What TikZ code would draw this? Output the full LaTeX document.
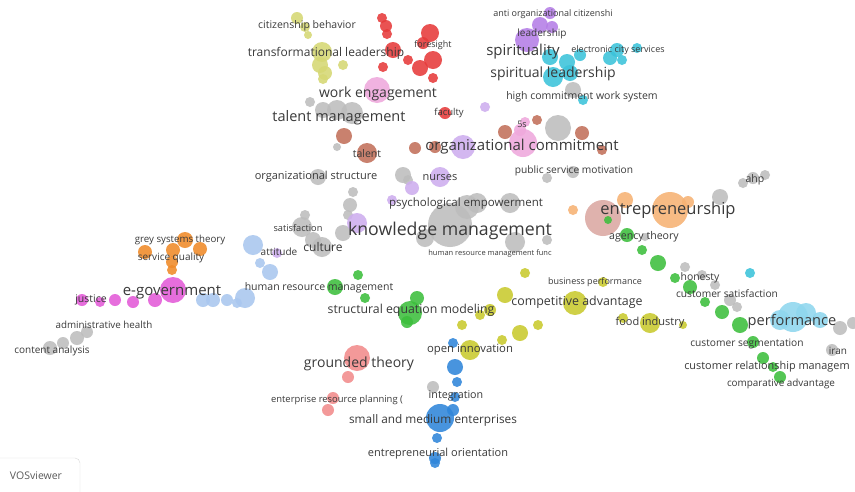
\documentclass[tikz,border=0pt]{standalone}
\usepackage{xcolor}
\usepackage{tikz}
\usetikzlibrary{backgrounds}
\usepackage{fontspec}
\setmainfont{Open Sans}
\definecolor{rosso}{HTML}{E63B3B}
\definecolor{giallo}{HTML}{D6D874}
\definecolor{oliva}{HTML}{C9CA2E}
\definecolor{rosa}{HTML}{EFA8DC}
\definecolor{grigio}{HTML}{BDBDBD}
\definecolor{marrone}{HTML}{C2705A}
\definecolor{rosantico}{HTML}{DBA8A2}
\definecolor{viola}{HTML}{B57EE6}
\definecolor{lilla}{HTML}{CDAEEE}
\definecolor{ciano}{HTML}{3CC3DA}
\definecolor{arancio}{HTML}{F08A28}
\definecolor{arancino}{HTML}{F6B274}
\definecolor{azzurro}{HTML}{A9C7EF}
\definecolor{magenta}{HTML}{E35AD8}
\definecolor{verde}{HTML}{3DBF3D}
\definecolor{blu}{HTML}{2F86DA}
\definecolor{salmone}{HTML}{F28C8C}
\definecolor{celeste}{HTML}{8FD7EE}
\definecolor{testo}{HTML}{3A3A3A}

\tikzset{
  bolla/.style={circle, inner sep=0pt, minimum size=#1pt, fill opacity=.88},
  ros/.style={bolla=#1, fill=rosso}, gia/.style={bolla=#1, fill=giallo},
  oli/.style={bolla=#1, fill=oliva}, rsa/.style={bolla=#1, fill=rosa},
  gri/.style={bolla=#1, fill=grigio}, mar/.style={bolla=#1, fill=marrone},
  vio/.style={bolla=#1, fill=viola}, lil/.style={bolla=#1, fill=lilla},
  cia/.style={bolla=#1, fill=ciano}, ara/.style={bolla=#1, fill=arancio},
  arc/.style={bolla=#1, fill=arancino}, azz/.style={bolla=#1, fill=azzurro},
  mag/.style={bolla=#1, fill=magenta}, ver/.style={bolla=#1, fill=verde},
  blu/.style={bolla=#1, fill=blu}, sal/.style={bolla=#1, fill=salmone},
  cel/.style={bolla=#1, fill=celeste},
  lbl/.style={inner sep=0pt, text=testo, font=\fontsize{#1}{#1}\selectfont},
  lin/.style={line width=.8pt, opacity=.35}
}

\begin{document}
\begin{tikzpicture}[x=1pt, y=-1pt, show background rectangle,
    inner frame sep=0pt, background rectangle/.style={fill=white}]
    \useasboundingbox (0,0) rectangle (855,491);
    % cluster rosso
    \node[ros=10] (ros1) at (382,18) {};
    \node[ros=12] (ros2) at (386,26) {};
    \node[ros=10] (ros3) at (387,34) {};
    \node[ros=16] (ros4) at (393,50) {};
    \node[ros=10] (ros5) at (383,67) {};
    \node[ros=10] (ros6) at (408,60) {};
    \node[ros=12] (ros7) at (423,43) {};
    \node[ros=18] (ros8) at (430,33) {};
    \node[ros=18] (ros9) at (433,60) {};
    \node[ros=16] (ros10) at (420,68) {};
    \node[ros=10] (ros11) at (433,78) {};
    \node[ros=12] (ros12) at (445,113) {};
    % cluster giallo
    \node[gia=12] (gia1) at (297,18) {};
    \node[gia=10] (gia2) at (305,27) {};
    \node[gia=8] (gia3) at (308,35) {};
    \node[gia=20] (gia4) at (322,52) {};
    \node[gia=16] (gia5) at (320,65) {};
    \node[gia=14] (gia6) at (325,73) {};
    \node[gia=10] (gia7) at (323,79) {};
    \node[gia=10] (gia8) at (343,65) {};
    % cluster rosa
    \node[rsa=26] (rsa1) at (377,90) {};
    \node[rsa=12] (rsa4) at (520,130) {};
    \node[rsa=10] (rsa3) at (525,122) {};
    \node[rsa=28] (rsa2) at (523,143) {};
    % cluster grigio
    \node[gri=10] (gri1) at (310,102) {};
    \node[gri=16] (gri2) at (323,110) {};
    \node[gri=20] (gri3) at (337,110) {};
    \node[gri=22] (gri4) at (352,113) {};
    \node[gri=8] (gri5) at (337,147) {};
    \node[gri=16] (gri6) at (318,177) {};
    \node[gri=16] (gri7) at (403,175) {};
    \node[gri=10] (gri8) at (353,192) {};
    \node[gri=14] (gri9) at (350,205) {};
    \node[gri=10] (gri10) at (348,215) {};
    \node[gri=10] (gri11) at (305,215) {};
    \node[gri=20] (gri12) at (302,227) {};
    \node[gri=16] (gri13) at (313,240) {};
    \node[gri=20] (gri14) at (322,247) {};
    \node[gri=16] (gri15) at (343,233) {};
    \node[gri=18] (gri45) at (425,238) {};
    \node[gri=44] (gri16) at (450,225) {};
    \node[gri=20] (gri17) at (477,203) {};
    \node[gri=24] (gri18) at (467,207) {};
    \node[gri=20] (gri19) at (510,203) {};
    \node[gri=26] (gri20) at (558,128) {};
    \node[gri=16] (gri21) at (573,90) {};
    \node[gri=10] (gri22) at (547,178) {};
    \node[gri=12] (gri23) at (573,172) {};
    \node[gri=10] (gri24) at (408,180) {};
    \node[gri=20] (gri25) at (515,242) {};
    \node[gri=10] (gri26) at (547,240) {};
    \node[gri=16] (gri27) at (720,197) {};
    \node[gri=10] (gri28) at (743,183) {};
    \node[gri=12] (gri29) at (753,178) {};
    \node[gri=10] (gri30) at (765,175) {};
    \node[gri=10] (gri31) at (685,267) {};
    \node[gri=10] (gri32) at (702,275) {};
    \node[gri=10] (gri33) at (715,285) {};
    \node[gri=12] (gri34) at (730,300) {};
    \node[gri=10] (gri35) at (737,307) {};
    \node[gri=14] (gri36) at (840,328) {};
    \node[gri=12] (gri37) at (853,323) {};
    \node[gri=12] (gri38) at (832,350) {};
    \node[gri=14] (gri39) at (50,348) {};
    \node[gri=12] (gri40) at (63,343) {};
    \node[gri=14] (gri41) at (77,338) {};
    \node[gri=12] (gri42) at (87,332) {};
    \node[gri=12] (gri43) at (433,387) {};
    \node[gri=8] (gri44) at (645,237) {};
    % cluster marrone
    \node[mar=16] (mar1) at (344,136) {};
    \node[mar=20] (mar2) at (367,153) {};
    \node[mar=12] (mar3) at (415,148) {};
    \node[mar=12] (mar4) at (435,147) {};
    \node[mar=14] (mar5) at (505,132) {};
    \node[mar=10] (mar6) at (537,120) {};
    \node[mar=14] (mar7) at (582,133) {};
    \node[mar=10] (mar8) at (602,150) {};
    \node[bolla=36, fill=rosantico] (mar9) at (603,218) {};
    % cluster viola
    \node[vio=12] (vio1) at (550,13) {};
    \node[vio=16] (vio2) at (540,25) {};
    \node[vio=24] (vio3) at (527,40) {};
    \node[vio=12] (vio4) at (552,27) {};
    \node[lil=10] (vio5) at (485,107) {};
    \node[lil=24] (vio6) at (463,147) {};
    \node[lil=20] (vio7) at (440,177) {};
    \node[lil=14] (vio8) at (412,188) {};
    \node[lil=10] (vio9) at (392,200) {};
    \node[lil=20] (vio10) at (357,223) {};
    \node[lil=10] (vio11) at (277,253) {};
    % cluster ciano
    \node[cia=16] (cia1) at (550,57) {};
    \node[cia=16] (cia2) at (567,62) {};
    \node[cia=12] (cia3) at (580,55) {};
    \node[cia=14] (cia4) at (610,58) {};
    \node[cia=14] (cia5) at (617,50) {};
    \node[cia=10] (cia6) at (622,60) {};
    \node[cia=10] (cia11) at (637,48) {};
    \node[cia=20] (cia7) at (553,77) {};
    \node[cia=16] (cia8) at (570,73) {};
    \node[cia=10] (cia9) at (583,100) {};
    \node[cia=10] (cia10) at (750,273) {};
    % cluster arancio
    \node[ara=14] (ara1) at (145,252) {};
    \node[ara=14] (ara2) at (173,250) {};
    \node[ara=16] (ara3) at (185,240) {};
    \node[ara=14] (ara4) at (200,249) {};
    \node[ara=12] (ara5) at (172,262) {};
    \node[ara=10] (ara6) at (172,270) {};
    \node[arc=16] (arc2) at (625,200) {};
    \node[arc=10] (arc3) at (573,210) {};
    \node[arc=12] (arc4) at (688,202) {};
    \node[arc=36] (arc1) at (670,210) {};
    % cluster azzurro
    \node[azz=20] (azz1) at (253,245) {};
    \node[azz=10] (azz2) at (260,263) {};
    \node[azz=16] (azz3) at (270,272) {};
    \node[azz=20] (azz4) at (245,298) {};
    \node[azz=14] (azz5) at (203,300) {};
    \node[azz=14] (azz6) at (213,300) {};
    \node[azz=12] (azz7) at (227,300) {};
    \node[azz=10] (azz8) at (237,303) {};
    % cluster magenta
    \node[mag=26] (mag1) at (173,290) {};
    \node[mag=14] (mag2) at (155,300) {};
    \node[mag=12] (mag3) at (133,302) {};
    \node[mag=12] (mag4) at (115,300) {};
    \node[mag=10] (mag5) at (100,302) {};
    \node[mag=12] (mag6) at (82,300) {};
    % cluster verde
    \node[ver=8] (ver13) at (608,220) {};
    \node[ver=14] (ver1) at (627,235) {};
    \node[ver=10] (ver2) at (642,250) {};
    \node[ver=16] (ver3) at (658,263) {};
    \node[ver=10] (ver4) at (675,278) {};
    \node[ver=14] (ver5) at (690,287) {};
    \node[ver=10] (ver6) at (705,302) {};
    \node[ver=14] (ver7) at (722,312) {};
    \node[ver=16] (ver8) at (740,325) {};
    \node[ver=12] (ver9) at (753,342) {};
    \node[ver=12] (ver10) at (763,358) {};
    \node[ver=10] (ver11) at (773,367) {};
    \node[ver=12] (ver12) at (780,377) {};
    \node[ver=10] (ver14) at (358,275) {};
    \node[ver=16] (ver15) at (335,287) {};
    \node[ver=10] (ver16) at (365,298) {};
    \node[ver=14] (ver18) at (417,298) {};
    \node[ver=24] (ver17) at (410,313) {};
    \node[ver=12] (ver19) at (407,322) {};
    % cluster oliva
    \node[oli=24] (oli1) at (575,303) {};
    \node[oli=10] (oli2) at (525,273) {};
    \node[oli=16] (oli3) at (505,295) {};
    \node[oli=10] (oli4) at (603,282) {};
    \node[oli=12] (oli5) at (490,310) {};
    \node[oli=10] (oli6) at (538,325) {};
    \node[oli=16] (oli7) at (520,333) {};
    \node[oli=10] (oli8) at (502,340) {};
    \node[oli=10] (oli9) at (480,315) {};
    \node[oli=10] (oli10) at (462,325) {};
    \node[oli=20] (oli11) at (470,350) {};
    \node[oli=10] (oli12) at (623,318) {};
    \node[oli=20] (oli13) at (650,323) {};
    \node[oli=8] (oli14) at (683,325) {};
    % cluster blu
    \node[blu=10] (blu1) at (453,343) {};
    \node[blu=16] (blu2) at (455,367) {};
    \node[blu=10] (blu3) at (457,382) {};
    \node[blu=10] (blu4) at (455,397) {};
    \node[blu=12] (blu5) at (453,410) {};
    \node[blu=28] (blu6) at (440,418) {};
    \node[blu=10] (blu7) at (437,438) {};
    \node[blu=12] (blu8) at (435,458) {};
    \node[blu=10] (blu9) at (435,463) {};
    % cluster salmone
    \node[sal=26] (sal1) at (357,358) {};
    \node[sal=12] (sal2) at (348,377) {};
    \node[sal=12] (sal3) at (333,398) {};
    \node[sal=12] (sal4) at (328,410) {};
    % cluster celeste
    \node[cel=20] (cel2) at (780,320) {};
    \node[cel=20] (cel4) at (806,313) {};
    \node[cel=16] (cel3) at (820,320) {};
    \node[cel=30] (cel1) at (793,317) {};

    % collegamenti
    \begin{scope}[on background layer]
    \draw[lin, rosso] (ros1) -- (ros2) -- (ros3) -- (ros4) -- (ros5);
    \draw[lin, rosso] (ros7) -- (ros8) -- (ros9) -- (ros10) -- (ros11) -- (ros12);
    \draw[lin, rosso] (ros4) -- (ros6) -- (ros9);
    \draw[lin, rosso] (ros12) to[bend left=10] (vio6);
    \draw[lin, rosso] (ros12) to[bend right=5] (gri18);
    \draw[lin, rosso] (ros11) to[bend right=10] (mar4);
    \draw[lin, rosso] (ros10) to[bend right=10] (vio7);
    \draw[lin, giallo] (gia1) -- (gia2) -- (gia3) -- (gia4) -- (gia5) -- (gia6) -- (gia7);
    \draw[lin, giallo] (gia4) -- (gia8);
    \draw[lin, giallo] (gia8) to[bend left=10] (rsa1);
    \draw[lin, rosa] (rsa1) -- (gri16);
    \draw[lin, rosa] (rsa1) to[bend left=10] (rsa2);
    \draw[lin, rosa] (rsa1) to[bend right=15] (sal1);
    \draw[lin, rosa] (rsa2) -- (gri16);
    \draw[lin, rosa] (rsa2) to[bend left=15] (arc1);
    \draw[lin, rosa] (rsa2) -- (rsa3);
    \draw[lin, grigio] (gri4) -- (mar2) -- (gri16);
    \draw[lin, grigio] (gri6) -- (gri12) -- (gri14) -- (gri16);
    \draw[lin, grigio] (gri16) -- (gri18) -- (gri19) -- (gri25);
    \draw[lin, grigio] (gri27) -- (gri28) -- (gri29) -- (gri30);
    \draw[lin, grigio] (arc1) -- (gri27);
    \draw[lin, grigio] (gri39) -- (gri40) -- (gri41) -- (gri42);
    \draw[lin, grigio] (gri42) to[bend right=10] (mag1);
    \draw[lin, grigio] (gri16) to[bend left=20] (cel1);
    \draw[lin, grigio] (gri16) to[bend right=10] (mag1);
    \draw[lin, grigio] (gri6) to[bend left=10] (gri7);
    \draw[lin, grigio] (gri20) to[bend left=10] (gri16);
    \draw[lin, grigio] (gri21) to[bend right=10] (gri19);
    \draw[lin, grigio] (gri31) -- (gri32) -- (gri33) -- (gri34) -- (gri35);
    \draw[lin, grigio] (gri36) -- (gri37);
    \draw[lin, grigio] (gri43) to[bend left=15] (gri16);
    \draw[lin, grigio] (gri4) to[bend right=25] (sal1);
    \draw[lin, arancino] (arc1) to[bend left=30] (cel1);
    \draw[lin, arancino] (arc1) to[bend left=20] (gri38);
    \draw[lin, arancino] (arc1) to[bend left=15] (ver12);
    \draw[lin, arancino] (arc3) -- (gri16);
    \draw[lin, arancino] (arc2) -- (arc1) -- (arc4);
    \draw[lin, arancio] (ara4) to[bend left=10] (gri16);
    \draw[lin, arancio] (ara1) -- (ara2) -- (ara3) -- (ara4);
    \draw[lin, arancio] (ara2) -- (ara5) -- (ara6) -- (mag1);
    \draw[lin, azzurro] (azz1) to[bend left=10] (gri16);
    \draw[lin, azzurro] (azz1) -- (azz2) -- (azz3) -- (azz4);
    \draw[lin, azzurro] (azz4) -- (azz8) -- (azz7) -- (azz6) -- (azz5) -- (mag1);
    \draw[lin, magenta] (mag6) -- (mag5) -- (mag4) -- (mag3) -- (mag2) -- (mag1);
    \draw[lin, magenta] (mag1) to[bend right=20] (sal1);
    \draw[lin, magenta] (mag1) to[bend left=20] (vio10);
    \draw[lin, ciano] (cia1) -- (cia2) -- (cia3) -- (cia4) -- (cia5) -- (cia11);
    \draw[lin, ciano] (cia7) -- (cia8) -- (cia9);
    \draw[lin, ciano] (cia9) to[bend left=10] (gri25);
    \draw[lin, ciano] (cia10) to[bend right=20] (cel1);
    \draw[lin, viola] (vio1) -- (vio2) -- (vio3) -- (vio4);
    \draw[lin, viola] (vio3) to[bend right=40] (vio10);
    \draw[lin, viola] (vio3) to[bend left=25] (arc1);
    \draw[lin, lilla] (vio5) -- (vio6) -- (vio7) -- (vio8) -- (vio9) -- (vio10);
    \draw[lin, lilla] (vio10) to[bend left=10] (vio11);
    \draw[lin, marrone] (mar1) -- (mar2);
    \draw[lin, marrone] (mar3) -- (mar4) -- (vio6);
    \draw[lin, marrone] (mar5) -- (rsa2) -- (mar7) -- (mar8);
    \draw[lin, marrone] (mar9) to[bend right=10] (gri16);
    \draw[lin, marrone] (mar9) to[bend left=30] (cel1);
    \draw[lin, verde] (ver13) -- (ver1) -- (ver2) -- (ver3) -- (ver4) -- (ver5) -- (ver6);
    \draw[lin, verde] (ver6) -- (ver7) -- (ver8) -- (ver9) -- (ver10) -- (ver11) -- (ver12);
    \draw[lin, verde] (ver14) -- (ver15) -- (ver16) -- (ver17) -- (ver18);
    \draw[lin, verde] (ver15) to[bend left=10] (gri16);
    \draw[lin, verde] (ver17) -- (oli9);
    \draw[lin, verde] (ver17) to[bend right=10] (ver1);
    \draw[lin, oliva] (oli1) -- (oli2);
    \draw[lin, oliva] (oli1) -- (oli3) -- (oli5) -- (oli9) -- (oli10) -- (oli11);
    \draw[lin, oliva] (oli1) -- (oli4);
    \draw[lin, oliva] (oli1) -- (oli6) -- (oli7) -- (oli8) -- (oli11);
    \draw[lin, oliva] (oli1) -- (oli12) -- (oli13) -- (oli14);
    \draw[lin, oliva] (oli1) to[bend right=15] (arc1);
    \draw[lin, oliva] (oli1) -- (gri16);
    \draw[lin, oliva] (oli13) to[bend left=10] (cel2);
    \draw[lin, blu] (blu1) -- (blu2) -- (blu3) -- (blu4) -- (blu5) -- (blu6) -- (blu7) -- (blu8) -- (blu9);
    \draw[lin, blu] (blu1) to[bend right=10] (gri25);
    \draw[lin, salmone] (sal1) -- (sal2) -- (sal3) -- (sal4);
    \draw[lin, salmone] (sal1) to[bend left=20] (oli11);
    \draw[lin, salmone] (sal1) to[bend right=10] (gri16);
    \draw[lin, salmone] (sal1) to[bend left=10] (blu6);
    \draw[lin, celeste] (cel1) -- (cel3) -- (gri36);
    \end{scope}

    % etichette
    \node[lbl=10.5] (tCit) at (307,26) {citizenship behavior};
    \node[lbl=12] (tTra) at (326,53) {transformational leadership};
    \node[lbl=9] (tFor) at (433,45) {foresight};
    \node[lbl=14] (tWork) at (378,94) {work engagement};
    \node[lbl=14.5] (tTal) at (339,118) {talent management};
    \node[lbl=9.5] (tFac) at (449,113) {faculty};
    \node[lbl=9] (tAnti) at (553,14) {anti organizational citizenshi};
    \node[lbl=10] (tLead) at (542,34) {leadership};
    \node[lbl=15] (tSpi) at (523,52) {spirituality};
    \node[lbl=9] (tEle) at (618,50) {electronic city services};
    \node[lbl=14] (tSpl) at (553,74) {spiritual leadership};
    \node[lbl=10.5] (tHigh) at (582,97) {high commitment work system};
    \node[lbl=9] (t5s) at (522,124) {5s};
    \node[lbl=10.5] (tTalent) at (367,154) {talent};
    \node[lbl=15] (tOrgc) at (522,147) {organizational commitment};
    \node[lbl=11] (tOrgs) at (316,177) {organizational structure};
    \node[lbl=11] (tNur) at (440,178) {nurses};
    \node[lbl=10.2] (tPub) at (574,171) {public service motivation};
    \node[lbl=11.5] (tPsy) at (466,204) {psychological empowerment};
    \node[lbl=10.5] (tAhp) at (755,180) {ahp};
    \node[lbl=16.5] (tEnt) at (668,210) {entrepreneurship};
    \node[lbl=9.2] (tSat) at (298,228) {satisfaction};
    \node[lbl=17.7] (tKm) at (450,231) {knowledge management};
    \node[lbl=9.7] (tGrey) at (180,240) {grey systems theory};
    \node[lbl=10.6] (tAge) at (644,237) {agency theory};
    \node[lbl=12] (tCul) at (323,247) {culture};
    \node[lbl=10] (tAtt) at (279,252) {attitude};
    \node[lbl=7.5] (tHrmf) at (490,254) {human resource management func};
    \node[lbl=10] (tSer) at (171,258) {service quality};
    \node[lbl=9] (tBus) at (595,282) {business performance};
    \node[lbl=10.4] (tHon) at (700,278) {honesty};
    \node[lbl=15] (tEgov) at (172,292) {e-government};
    \node[lbl=10.5] (tHrm) at (319,288) {human resource management};
    \node[lbl=10.2] (tCus) at (727,294) {customer satisfaction};
    \node[lbl=12.4] (tCom) at (577,302) {competitive advantage};
    \node[lbl=12.3] (tSem) at (411,310) {structural equation modeling};
    \node[lbl=10.5] (tJus) at (91,300) {justice};
    \node[lbl=11] (tFood) at (650,323) {food industry};
    \node[lbl=14.6] (tPerf) at (792,322) {performance};
    \node[lbl=9.8] (tAdm) at (104,325) {administrative health};
    \node[lbl=11.3] (tOpen) at (470,350) {open innovation};
    \node[lbl=10] (tCont) at (52,351) {content analysis};
    \node[lbl=10.2] (tCseg) at (747,344) {customer segmentation};
    \node[lbl=10] (tIran) at (838,351) {iran};
    \node[lbl=14] (tGro) at (359,364) {grounded theory};
    \node[lbl=10.9] (tCrm) at (767,367) {customer relationship managem};
    \node[lbl=9.9] (tCadv) at (781,384) {comparative advantage};
    \node[lbl=9.4] (tErp) at (337,400) {enterprise resource planning (};
    \node[lbl=10.7] (tInt) at (456,396) {integration};
    \node[lbl=11.8] (tSme) at (433,420) {small and medium enterprises};
    \node[lbl=11] (tEor) at (438,454) {entrepreneurial orientation};
    % riquadro VOSviewer
    \draw[black!15, rounded corners=5pt] (-8,458) rectangle (80,500);
    \node[lbl=10.5, text=black!65] (tVos) at (36,476) {VOSviewer};
\end{tikzpicture}
\end{document}
